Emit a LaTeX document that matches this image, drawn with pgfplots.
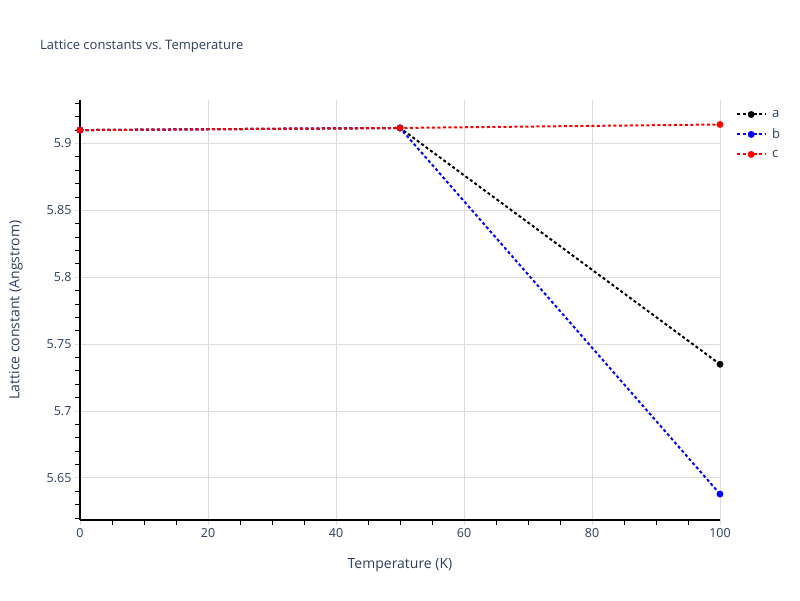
\documentclass[border=0pt]{standalone}
\usepackage{fontspec}
\setmainfont{Open Sans}
\usepackage{pgfplots}
\pgfplotsset{compat=1.18}
\definecolor{txt}{HTML}{2A3F5F}
\definecolor{gridc}{HTML}{DDDDDD}
\begin{document}
\begin{tikzpicture}[x=1pt,y=1pt]
\path[use as bounding box, fill=white] (0,0) rectangle (800,600);
\node[anchor=base west, text=txt, font=\fontsize{13}{15}\selectfont, inner sep=0pt] at (40,550) {Lattice constants vs.\ Temperature};
\begin{axis}[
  at={(80pt,80pt)}, anchor=south west,
  scale only axis, width=640pt, height=420pt,
  xmin=0, xmax=100, ymin=5.6186, ymax=5.9325,
  axis lines*=left,
  axis line style={-, black, line width=1.3pt},
  xtick={0,20,40,60,80,100},
  xticklabels={0,20,40,60,80,100},
  minor xtick={5,10,15,25,30,35,45,50,55,65,70,75,85,90,95},
  ytick={5.65,5.7,5.75,5.8,5.85,5.9},
  yticklabels={5.65,5.7,5.75,5.8,5.85,5.9},
  minor ytick={5.62,5.63,5.64,5.66,5.67,5.68,5.69,5.71,5.72,5.73,5.74,5.76,5.77,5.78,5.79,5.81,5.82,5.83,5.84,5.86,5.87,5.88,5.89,5.91,5.92,5.93},
  tick align=outside,
  major tick length=5pt, minor tick length=5pt,
  major tick style={gridc, line width=1pt},
  minor tick style={black, line width=1pt},
  grid=major,
  major grid style={gridc, line width=1pt},
  tick label style={text=txt, font=\fontsize{12.5}{14}\selectfont},
  xlabel={Temperature (K)},
  ylabel={Lattice constant (Angstrom)},
  label style={text=txt, font=\fontsize{14}{16}\selectfont},
  xlabel style={at={(axis description cs:0.5,-0.1075)}, anchor=center},
  ylabel style={at={(axis description cs:-0.1,0.5)}, anchor=center},
  legend style={at={(1,1)}, anchor=north west, xshift=14pt, yshift=-6pt, draw=none, fill=none,
    font=\fontsize{13}{15}\selectfont, text=txt, row sep=6pt, inner sep=2pt,
    /tikz/every odd column/.append style={column sep=4pt}},
  legend cell align=left,
  legend image code/.code={\draw[mark repeat=2,mark phase=2,#1] plot coordinates {(0pt,0pt)(14pt,0pt)(28pt,0pt)};},
  every axis plot/.append style={line width=2pt, dash pattern=on 3pt off 2.5pt, mark=*, mark size=3.2pt},
]
\addplot[black, mark options={solid, fill=black, draw=black, line width=0.4pt}] coordinates {(0,5.910)(50,5.9116)(100,5.735)};
\addlegendentry{a}
\addplot[blue, mark options={solid, fill=blue, draw=blue, line width=0.4pt}] coordinates {(0,5.910)(50,5.9116)(100,5.638)};
\addlegendentry{b}
\addplot[red, mark options={solid, fill=red, draw=red, line width=0.4pt}] coordinates {(0,5.910)(50,5.9116)(100,5.9142)};
\addlegendentry{c}
\end{axis}
\end{tikzpicture}
\end{document}
